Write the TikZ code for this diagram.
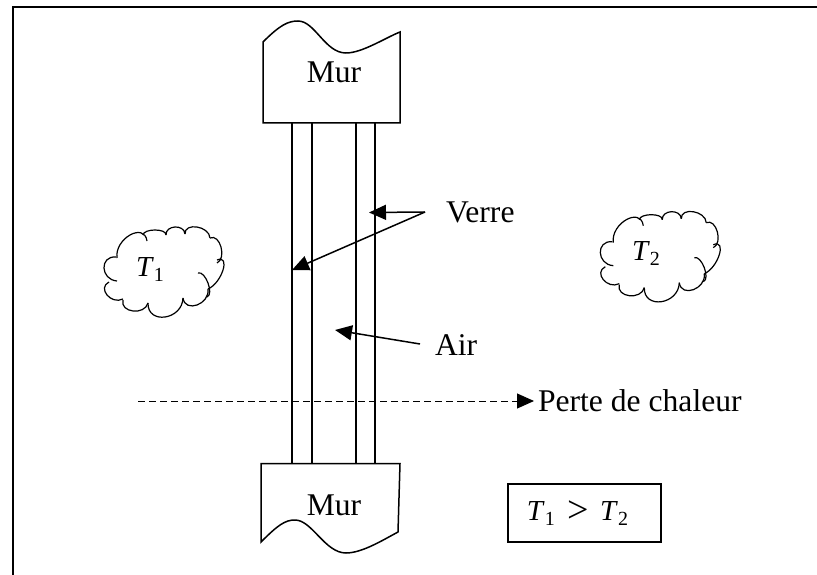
\documentclass[tikz,border=0pt]{standalone}
\usepackage{fontspec}
\setmainfont{Liberation Serif}
\usetikzlibrary{positioning,arrows.meta}
\newcommand{\tsub}[1]{\textit{T}\raisebox{-5pt}{\fontsize{20}{24}\selectfont #1}}

\begin{document}
\begin{tikzpicture}[x=1pt,y=-1pt,line width=1.5pt,
		tip/.style={-{Triangle[length=17pt,width=15pt]}},
		every node/.style={font=\fontsize{31.6}{36}\selectfont}]
		\useasboundingbox (0,0) rectangle (817,575);
		% frame
		\coordinate (cornerb) at (13,575);
		\coordinate (cornera) at (13,7);
		\coordinate (cornerc) at (817,7);
		\draw (cornerb) -- (cornera) -- (cornerc);

		% create the nodes
		\node (murtop) at (334,72) {Mur};
		\node (murbottom) at (334,505) {Mur};
		\node (verre) [anchor=west] at (442,212) {Verre};
		\node (air) [anchor=west] at (431,345) {Air};
		\node (perte) [anchor=west] at (534,401) {Perte de chaleur};
		\node (temp) [draw,minimum width=153pt,minimum height=58pt] at (584.5,513)
		{\fontsize{29}{36}\selectfont \tsub{1}\hspace*{13pt}\raisebox{-2pt}{\fontsize{38}{36}\selectfont >}\hspace*{11pt}\tsub{2}\hspace*{14pt}};
		\node (tone) at (150,270) {\fontsize{29}{36}\selectfont\tsub{1}};
		\node (ttwo) at (646,254) {\fontsize{29}{36}\selectfont\tsub{2}};

		% create the coordinates
		\coordinate (verreout) at (425,212);
		\coordinate (paneb) at (369,212.5);
		\coordinate (panea) at (292,270);
		\coordinate (airout) at (420,344);
		\coordinate (airin) at (335,330);
		\coordinate (dashout) at (138,401);

		% walls
		\draw (263,123) -- (263,42) .. controls (280,25) and (288,21) .. (298,21)
		.. controls (315,21) and (325,53) .. (346,53)
		.. controls (362,53) and (385,38) .. (400,32) -- (400,123) -- cycle;
		\draw (261,463.5) -- (261,542) .. controls (278,525) and (285,520) .. (295,520)
		.. controls (312,520) and (325,553) .. (346,553)
		.. controls (362,553) and (383,540) .. (398,532) -- (400,463.5) -- cycle;

		% panes
		\foreach \panex in {292,312,356,375}
			\draw (\panex,123) -- (\panex,463.5);

		% clouds
		\foreach \cloudx/\cloudy in {0/0,496.3/-15.3}
			\foreach \ax/\ay/\px/\py/\bx/\by in {117/258/130/235/147/241,
				143/235/155/230/166/235,166/235/175/227/185/234,
				185/234/197/227/210/238,210/238/221/247/217/263,
				217/260/223/270/208/289,198/273/208/283/207/297,
				208/289/197/305/183/298,183/298/165/317/148/303,
				148/303/133/311/123/300,109/282/107/295/123/299,
				117/281/104/268/116/257}
				{
				\pgfmathsetmacro{\hx}{4/3*(\px-(\ax+\bx)/2)}
				\pgfmathsetmacro{\hy}{4/3*(\py-(\ay+\by)/2)}
				\draw[line width=1.2pt,shift={(\cloudx,\cloudy)}] (\ax,\ay)
				.. controls (\ax+\hx,\ay+\hy) and (\bx+\hx,\by+\hy) .. (\bx,\by);
				}

		% connect the nodes
		\draw[tip] (verreout) -- (paneb);
		\draw[tip] (verreout) -- (panea);
		\draw[tip] (airout) -- (airin);
		\draw[tip,line width=1pt,dash pattern=on 7pt off 4pt] (dashout) -- (perte.west);
	\end{tikzpicture}
\end{document}
